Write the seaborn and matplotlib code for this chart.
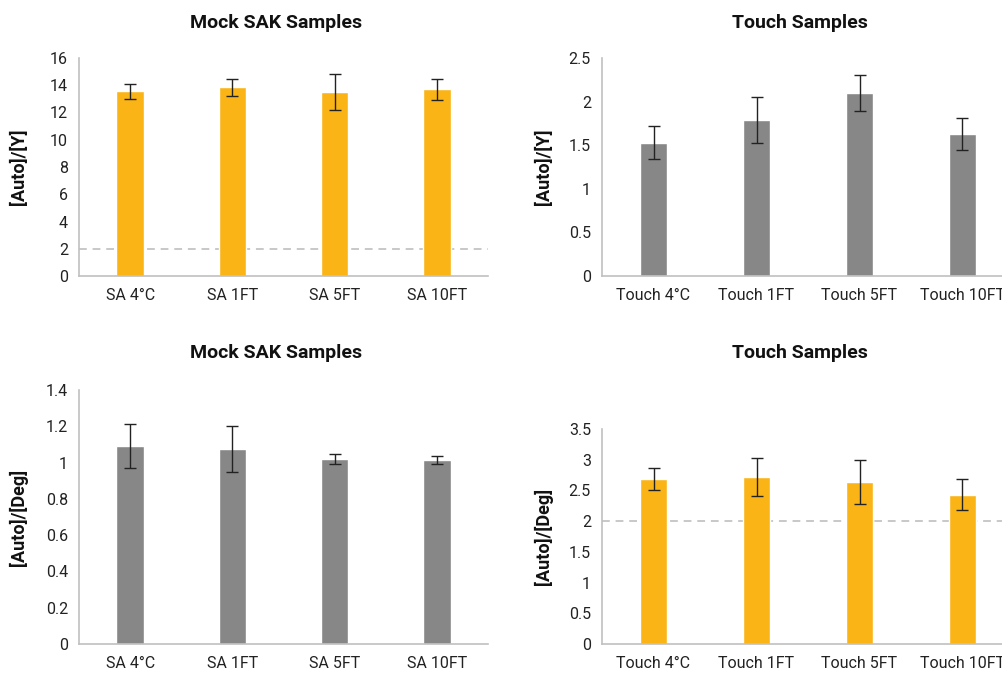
import pandas as pd
import seaborn as sns
import matplotlib.pyplot as plt

# Data
sa_labels = ['SA 4°C', 'SA 1FT', 'SA 5FT', 'SA 10FT']
touch_labels = ['Touch 4°C', 'Touch 1FT', 'Touch 5FT', 'Touch 10FT']

sa_y_mean = [13.55, 13.85, 13.5, 13.7]
sa_y_err = [0.57, 0.63, 1.33, 0.78]

touch_y_mean = [1.53, 1.79, 2.10, 1.63]
touch_y_err = [0.19, 0.26, 0.21, 0.18]

sa_deg_mean = [1.09, 1.075, 1.02, 1.015]
sa_deg_err = [0.12, 0.125, 0.03, 0.022]

touch_deg_mean = [2.68, 2.72, 2.64, 2.43]
touch_deg_err = [0.18, 0.31, 0.36, 0.25]

threshold = 2

ORANGE = '#FBB416'
GREY = '#878787'
SPINE = '#C0C0C0'

sns.set_style('white')
plt.rcParams['font.family'] = ['Roboto', 'DejaVu Sans']

W, H = 1002, 673
fig = plt.figure(figsize=(W / 100, H / 100), dpi=100)


def add_axes(left, top, right, bottom):
    return fig.add_axes([left / W, 1 - bottom / H, (right - left) / W, (bottom - top) / H])


def panel(ax, labels, means, errs, color, ymax, step, ylabel, label_x, dashed=False):
    df = pd.DataFrame({'cat': labels, 'val': means})
    sns.barplot(data=df, x='cat', y='val', color=color, width=0.27,
                saturation=1, ax=ax)
    ax.errorbar(range(len(labels)), means, yerr=errs, fmt='none',
                ecolor='#222222', elinewidth=1, capsize=4.3, capthick=1)
    if dashed:
        ax.axhline(threshold, color='#C8C8C8', lw=1.4, ls=(0, (4, 3)), zorder=0.5)
    ax.set_ylim(0, ymax)
    ticks = [i * step for i in range(int(round(ymax / step)) + 1)]
    ax.set_yticks(ticks)
    ax.set_yticklabels(['{:g}'.format(round(t, 2)) for t in ticks])
    ax.set_xlim(-0.5, len(labels) - 0.5)
    ax.set_xlabel('')
    ax.set_ylabel(ylabel, fontsize=13, fontweight='bold', color='#111111')
    ax.yaxis.set_label_coords(label_x, 0.5)
    sns.despine(ax=ax)
    for s in ['left', 'bottom']:
        ax.spines[s].set_color(SPINE)
        ax.spines[s].set_linewidth(1.2)
    ax.tick_params(axis='both', colors=SPINE, length=5, width=1.2,
                   labelcolor='#222222', labelsize=11.5)
    ax.tick_params(axis='x', pad=4)
    ax.tick_params(axis='y', pad=3)


ax1 = add_axes(79, 58, 488, 276)
panel(ax1, sa_labels, sa_y_mean, sa_y_err, ORANGE, 16, 2, '[Auto]/[Y]', -0.125, dashed=True)

ax2 = add_axes(602, 58, 1014, 276)
panel(ax2, touch_labels, touch_y_mean, touch_y_err, GREY, 2.5, 0.5, '[Auto]/[Y]', -0.12)

ax3 = add_axes(79, 390, 488, 644)
panel(ax3, sa_labels, sa_deg_mean, sa_deg_err, GREY, 1.4, 0.2, '[Auto]/[Deg]', -0.125)

ax4 = add_axes(602, 429, 1014, 644)
panel(ax4, touch_labels, touch_deg_mean, touch_deg_err, ORANGE, 3.5, 0.5, '[Auto]/[Deg]', -0.12, dashed=True)

title_kw = dict(ha='center', va='center', fontsize=14, fontweight='bold', color='#111111')
fig.text(276 / W, 1 - 23 / H, 'Mock SAK Samples', **title_kw)
fig.text(800 / W, 1 - 23 / H, 'Touch Samples', **title_kw)
fig.text(276 / W, 1 - 353 / H, 'Mock SAK Samples', **title_kw)
fig.text(800 / W, 1 - 353 / H, 'Touch Samples', **title_kw)

fig.savefig('out.png', dpi=100)
